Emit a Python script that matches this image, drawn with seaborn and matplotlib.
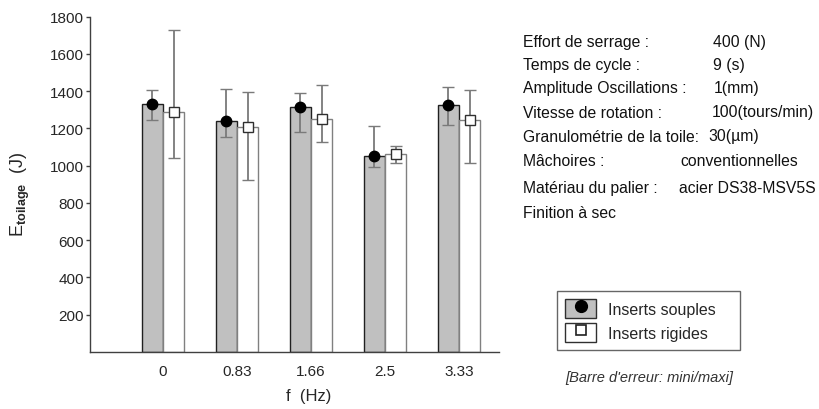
import pandas as pd
import seaborn as sns
import matplotlib.pyplot as plt
from matplotlib.patches import Patch
from matplotlib.lines import Line2D
from matplotlib.legend_handler import HandlerTuple

# valeurs (J)
freqs = ['0', '0.83', '1.66', '2.5', '3.33']
souples_moy = [1330, 1238, 1317, 1050, 1326]
souples_min = [1244, 1153, 1182, 995, 1219]
souples_max = [1406, 1412, 1390, 1212, 1420]
rigides_moy = [1287, 1206, 1249, 1064, 1246]
rigides_min = [1043, 921, 1127, 1016, 1016]
rigides_max = [1730, 1394, 1435, 1103, 1403]

series = ['Inserts souples', 'Inserts rigides']

conditions = [
    ('Effort de serrage :', '400 (N)'),
    ('Temps de cycle :', '9 (s)'),
    ('Amplitude Oscillations :', '1(mm)'),
    ('Vitesse de rotation :', '100(tours/min)'),
    ('Granulométrie de la toile:', '30(µm)'),
    ('Mâchoires :', 'conventionnelles'),
    ('Matériau du palier :', 'acier DS38-MSV5S'),
    ('Finition à sec', ''),
]

sns.set_style('ticks')
plt.rcParams['font.family'] = ['Liberation Sans', 'DejaVu Sans']
plt.rcParams['mathtext.fontset'] = 'custom'
plt.rcParams['mathtext.rm'] = 'Liberation Sans'
plt.rcParams['mathtext.bf'] = 'Liberation Sans:bold'

df = pd.DataFrame({
    'f': freqs * 2,
    'E': souples_moy + rigides_moy,
    'type': [series[0]] * 5 + [series[1]] * 5,
})

fig, ax = plt.subplots(figsize=(8.2, 4.1), dpi=100)
fig.subplots_adjust(left=90/820, right=499/820, bottom=1-353/410, top=1-17.5/410)

sns.barplot(data=df, x='f', y='E', hue='type', hue_order=series,
            palette={series[0]: '#c0c0c0', series[1]: 'white'},
            width=0.57, errorbar=None, legend=False, ax=ax, zorder=2)

edges = ['#202020', '#808080']
markers = [('o', 'black', 'black'), ('s', 'white', '#303030')]
mins = [souples_min, rigides_min]
maxs = [souples_max, rigides_max]
moys = [souples_moy, rigides_moy]
bar_conts = list(ax.containers)
for k, cont in enumerate(bar_conts):
    xs = []
    for p in cont:
        p.set_edgecolor(edges[k])
        p.set_linewidth(1.0)
        xs.append(p.get_x() + p.get_width() / 2)
    lo = [m - a for m, a in zip(moys[k], mins[k])]
    hi = [b - m for m, b in zip(moys[k], maxs[k])]
    mk, fc, ec = markers[k]
    ax.errorbar(xs, moys[k], yerr=[lo, hi], fmt=mk, ms=7.5 if mk == 'o' else 7,
                mfc=fc, mec=ec, mew=1.0, ecolor='#7a7a7a', elinewidth=1.3,
                capsize=4, capthick=1.3, zorder=4)

ax.set_ylim(0, 1800)
ax.set_xlim(-0.986, 4.54)
ax.set_yticks(range(200, 1801, 200))
ax.tick_params(axis='y', length=3, width=1, color='#404040', pad=1.5, labelsize=11)
ax.tick_params(axis='x', length=0, pad=9, labelsize=11)
sns.despine(ax=ax)
for s in ['left', 'bottom']:
    ax.spines[s].set_color('#404040')
    ax.spines[s].set_linewidth(1.0)
ax.set_xlabel('')
ax.set_ylabel('')

fig.text(20/820, 1-194/410, r'E$_{\mathbf{toilage}}$  (J)', rotation=90,
         ha='center', va='center', fontsize=13)
fig.text(309/820, 1-397/410, 'f  (Hz)', ha='center', va='center', fontsize=12)

# conditions d'essai
ys = [42, 65.5, 89, 113, 137, 162, 189, 214]
vx = [713, 713, 714, 712, 708, 680, 679, 0]
for (lab, val), y, x in zip(conditions, ys, vx):
    fig.text(523/820, 1-y/410, lab, ha='left', va='center', fontsize=11.3, color='#111111')
    if val:
        fig.text(x/820, 1-y/410, val, ha='left', va='center', fontsize=11.3, color='#111111')

handles = [
    (Patch(facecolor='#c0c0c0', edgecolor='#303030', lw=1),
     Line2D([], [], marker='o', ls='', ms=8.5, mfc='black', mec='black')),
    (Patch(facecolor='white', edgecolor='#303030', lw=1),
     Line2D([], [], marker='s', ls='', ms=7.5, mfc='white', mec='#202020', mew=1.2)),
]
leg = fig.legend(handles, series, handler_map={tuple: HandlerTuple(ndivide=1)},
                 loc='upper left',
                 bbox_to_anchor=(557/820, 1-355/410, 183/820, 63/410), mode='expand',
                 frameon=True, fancybox=False, fontsize=11.5,
                 handlelength=1.95, handleheight=1.45, labelspacing=0.3,
                 handletextpad=0.75, borderpad=0.5, borderaxespad=0)
leg.get_frame().set_edgecolor('#404040')
leg.get_frame().set_linewidth(1.0)

fig.text(565/820, 1-378/410, "[Barre d'erreur: mini/maxi]", ha='left', va='center',
         fontsize=10.5, style='italic', color='#333333')

plt.savefig('out.png', dpi=100)
